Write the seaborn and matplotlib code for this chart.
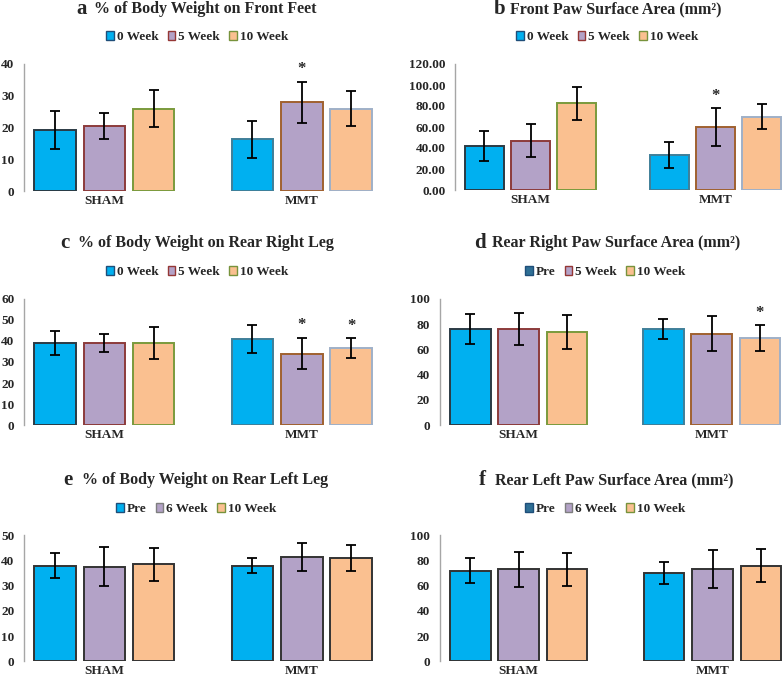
import numpy as np
import pandas as pd
import matplotlib
matplotlib.use("Agg")
import matplotlib.pyplot as plt
from matplotlib.patches import Patch
import seaborn as sns

# =========================
# DATA
# =========================

groups = ["SHAM", "MMT"]

a_levels = ["0 Week", "5 Week", "10 Week"]
a_means = [19.2, 20.5, 25.8, 16.2, 27.8, 25.8]
a_errs = [6.0, 4.1, 5.8, 5.7, 6.5, 5.5]
a_stars = [0, 0, 0, 0, 1, 0]

b_levels = ["0 Week", "5 Week", "10 Week"]
b_means = [42.0, 47.0, 82.5, 33.0, 60.0, 70.0]
b_errs = [14.5, 15.5, 15.5, 12.5, 18.0, 12.0]
b_stars = [0, 0, 0, 0, 1, 0]

c_levels = ["0 Week", "5 Week", "10 Week"]
c_means = [39.0, 39.0, 39.0, 41.0, 34.0, 36.5]
c_errs = [5.8, 4.3, 7.8, 6.5, 7.5, 4.8]
c_stars = [0, 0, 0, 0, 1, 1]

d_levels = ["Pre", "5 Week", "10 Week"]
d_means = [76.0, 76.0, 73.5, 76.0, 72.5, 69.0]
d_errs = [12.0, 12.5, 13.5, 8.0, 14.0, 10.0]
d_stars = [0, 0, 0, 0, 0, 1]

e_levels = ["Pre", "6 Week", "10 Week"]
e_means = [38.0, 37.5, 38.5, 38.0, 41.5, 41.0]
e_errs = [5.0, 7.8, 6.5, 3.0, 5.5, 5.0]
e_stars = [0, 0, 0, 0, 0, 0]

f_levels = ["Pre", "6 Week", "10 Week"]
f_means = [72.0, 73.0, 73.0, 70.0, 73.5, 76.0]
f_errs = [10.0, 14.0, 13.0, 8.5, 15.0, 13.0]
f_stars = [0, 0, 0, 0, 0, 0]

titles = [
    ("a", "% of Body Weight on Front Feet"),
    ("b", "Front Paw Surface Area (mm\u00b2)"),
    ("c", "% of Body Weight on Rear Right Leg"),
    ("d", "Rear Right Paw Surface Area (mm\u00b2)"),
    ("e", "% of Body Weight on Rear Left Leg"),
    ("f", "Rear Left Paw Surface Area (mm\u00b2)"),
]

y_ticks = [
    [0, 10, 20, 30, 40],
    [0, 20, 40, 60, 80, 100, 120],
    [0, 10, 20, 30, 40, 50, 60],
    [0, 20, 40, 60, 80, 100],
    [0, 10, 20, 30, 40, 50],
    [0, 20, 40, 60, 80, 100],
]

# =========================
# STYLE / LAYOUT (pixels)
# =========================

W, H = 784, 678
FILLS = ["#00b0f0", "#b3a2c7", "#fac090"]

EDGE_MIXED = ["#2b3a44", "#8c3b3b", "#7a9a3c", "#3f7f99", "#a0612f", "#9fb0c8"]
EDGE_GRAY = ["#333333"] * 6

# spine_x, right_x, top_px, bottom_px, sham_center, mmt_center
boxes = [
    (24, 382, 63.5, 191, 104.3, 301.8),
    (455, 784, 64, 190, 530.5, 715.5),
    (24, 382, 298.7, 425.3, 104.3, 301.8),
    (439.7, 784, 298.7, 425.3, 518.7, 711.7),
    (24, 382, 535.3, 661.3, 104.3, 301.8),
    (439.7, 784, 535.3, 661.3, 518.7, 712.5),
]

# letter_x, text_x, title_y, legend_center_x, legend_y
heads = [
    (76, 94, 9, 197, 37),
    (494, 510, 9, 607, 37),
    (60, 78, 243, 197, 272),
    (474, 492, 243, 605, 272),
    (63, 82, 480, 196, 509),
    (479, 495, 480, 605, 509),
]

panel_data = [
    (a_levels, a_means, a_errs, a_stars, EDGE_MIXED),
    (b_levels, b_means, b_errs, b_stars, EDGE_MIXED),
    (c_levels, c_means, c_errs, c_stars, EDGE_MIXED),
    (d_levels, d_means, d_errs, d_stars, EDGE_MIXED),
    (e_levels, e_means, e_errs, e_stars, EDGE_GRAY),
    (f_levels, f_means, f_errs, f_stars, EDGE_GRAY),
]

legend_fills = [FILLS, FILLS, FILLS,
                ["#2f6f95", FILLS[1], FILLS[2]],
                FILLS,
                ["#2f6f95", FILLS[1], FILLS[2]]]
legend_edges = [["#1f4e79", "#953735", "#77933c"]] * 4 + \
               [["#1f4e79", "#7f7f7f", "#77933c"],
                ["#1f4e79", "#7f7f7f", "#77933c"]]

sns.set_style("white")
plt.rcParams["font.family"] = ["Liberation Serif", "DejaVu Serif"]
plt.rcParams["font.weight"] = "bold"

fig = plt.figure(figsize=(W / 100, H / 100), dpi=100)

for i in range(6):
    levels, means, errs, stars, edges = panel_data[i]
    spine_x, right_x, top_px, bot_px, c0, c1 = boxes[i]
    sep = c1 - c0

    ax = fig.add_axes([spine_x / W, 1 - bot_px / H,
                       (right_x - spine_x) / W, (bot_px - top_px) / H])

    df = pd.DataFrame({
        "group": [g for g in groups for _ in levels],
        "time": levels * len(groups),
        "value": means,
    })

    sns.barplot(
        data=df, x="group", y="value", hue="time",
        order=groups, hue_order=levels,
        palette=FILLS, saturation=1, width=0.75, gap=0.16,
        errorbar=None, legend=False, ax=ax,
        linewidth=1.4
    )

    # error bars, edge colours and stars, bar by bar
    bar_sets = list(ax.containers)
    for h, cont in enumerate(bar_sets):
        for g, bar in enumerate(cont):
            k = g * len(levels) + h
            bar.set_edgecolor(edges[k])
            x = bar.get_x() + bar.get_width() / 2
            ax.errorbar(x, means[k], yerr=errs[k], fmt="none",
                        ecolor="black", elinewidth=1.3,
                        capsize=3.5, capthick=1.3, zorder=5)
            if stars[k]:
                ax.annotate("*", xy=(x, means[k] + errs[k]),
                            xytext=(0, 9), textcoords="offset points",
                            ha="center", va="center", fontsize=12,
                            fontweight="bold")

    ax.set_xlim((spine_x - c0) / sep, (right_x - c0) / sep)
    ax.set_ylim(y_ticks[i][0], y_ticks[i][-1])
    ax.set_yticks(y_ticks[i])
    if i == 1:
        ax.set_yticklabels([f"{t:.2f}" for t in y_ticks[i]])
    ax.set_xlabel("")
    ax.set_ylabel("")
    ax.tick_params(axis="both", length=0, labelsize=9.5)
    ax.tick_params(axis="y", pad=7)
    ax.tick_params(axis="x", pad=3, labelsize=9.5)

    for side in ["top", "right", "bottom"]:
        ax.spines[side].set_visible(False)
    ax.spines["left"].set_color("#a6a6a6")
    ax.spines["left"].set_linewidth(1.0)
    ax.set_facecolor("none")

    # title
    lx, tx, ty, lgx, lgy = heads[i]
    letter, title = titles[i]
    fig.text(lx / W, 1 - ty / H, letter, ha="left", va="center",
             fontsize=15, fontweight="bold")
    fig.text(tx / W, 1 - ty / H, title, ha="left", va="center",
             fontsize=11.5, fontweight="bold")

    # legend
    handles = [Patch(facecolor=legend_fills[i][j], edgecolor=legend_edges[i][j],
                     linewidth=1.0, label=levels[j]) for j in range(3)]
    fig.legend(handles=handles, loc="center", ncol=3, frameon=False,
               bbox_to_anchor=(lgx / W, 1 - lgy / H),
               handlelength=0.6, handleheight=0.6, handletextpad=0.2,
               columnspacing=0.7, prop={"size": 9.5, "weight": "bold"})

plt.savefig("out.png", dpi=100)
